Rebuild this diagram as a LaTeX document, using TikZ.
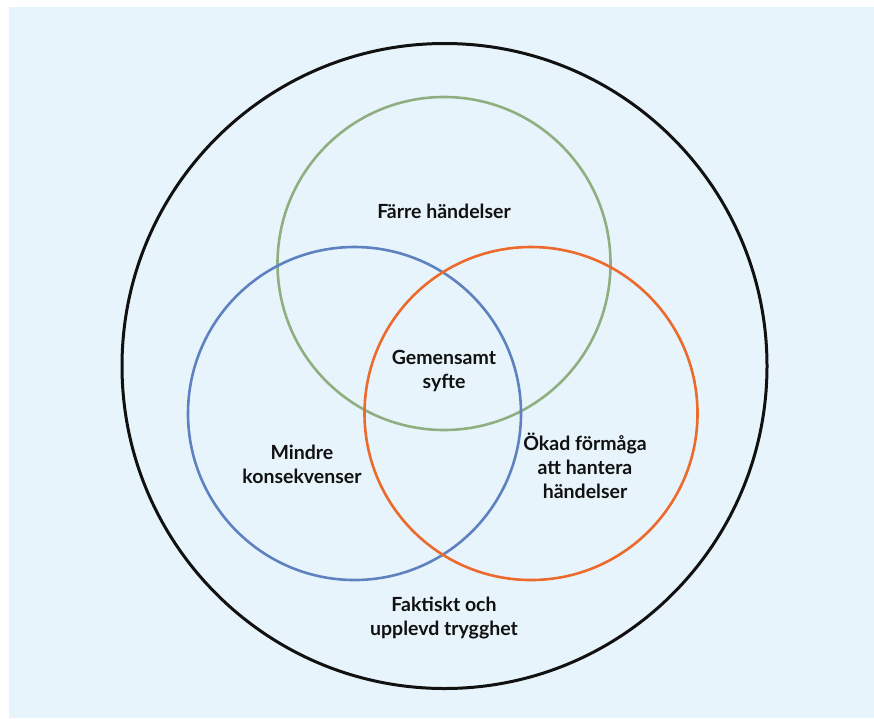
\documentclass[tikz,border=0pt]{standalone}
\usepackage{fontspec}
\setmainfont{Lato}
\usepackage{xcolor}
\usepackage{tikz}
\definecolor{bg}{HTML}{E8F4FC}
\definecolor{ink}{HTML}{111111}
\definecolor{sage}{HTML}{8FAF80}
\definecolor{steel}{HTML}{5E82C0}
\definecolor{flame}{HTML}{EB6A2C}
\tikzset{
  ring/.style={circle, line width=2.6pt, inner sep=0pt, minimum size=333pt},
  outer/.style={circle, draw=ink, line width=3pt, inner sep=0pt, minimum size=645pt},
  lab/.style={text=ink, font=\fontsize{19.5}{24}\selectfont\bfseries, align=center},
}
\begin{document}
\begin{tikzpicture}[x=1pt, y=-1pt]
  \useasboundingbox (0,0) rectangle (874,718);
  \fill[white] (0,0) rectangle (874,718);
  \fill[bg] (9,7) rectangle (874,718);
  % circles
  \node[outer] (world) at (444.5,366) {};
  \node[ring, draw=sage] (fewer) at (444,263.5) {};
  \node[ring, draw=steel] (less) at (354.5,413.5) {};
  \node[ring, draw=flame] (able) at (531,413.5) {};
  % labels
  \node[lab] (fewerlab) at (444,211) {Färre händelser};
  \node[lab] (common) at (444,371) {Gemensamt\\syfte};
  \node[lab] (lesslab) at (302,464) {Mindre\\konsekvenser};
  \node[lab] (ablelab) at (585,466) {Ökad förmåga\\att hantera\\händelser};
  \node[lab] (safe) at (444,618) {Faktiskt och\\upplevd trygghet};
\end{tikzpicture}
\end{document}
